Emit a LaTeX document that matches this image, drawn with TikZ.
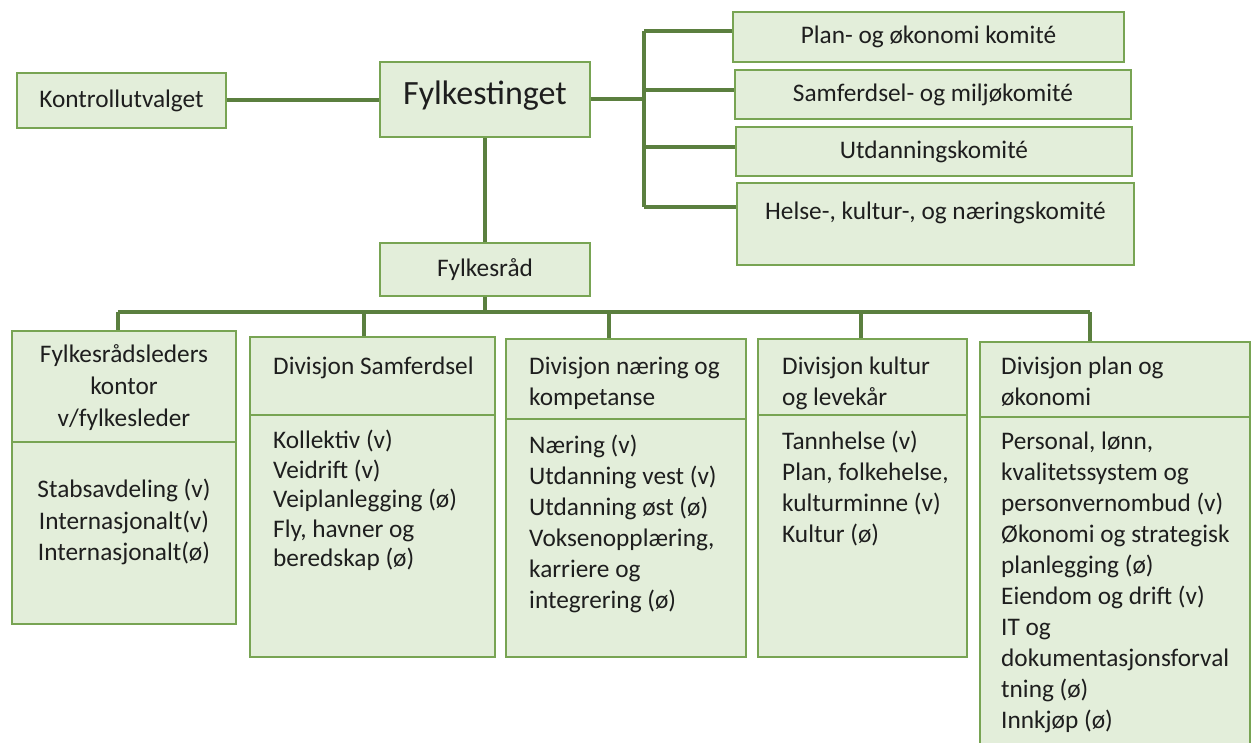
\documentclass[tikz,border=0pt]{standalone}
\usepackage{fontspec}
\setmainfont{Carlito}
\definecolor{boxfill}{HTML}{E3EEDA}
\definecolor{boxline}{HTML}{78A453}
\definecolor{connc}{HTML}{5B7F3F}
\definecolor{txtc}{HTML}{1E1E1E}
\begin{document}
\begin{tikzpicture}[x={(1pt,0)},y={(0,-1pt)},
  box/.style={draw=boxline, fill=boxfill, line width=2.6pt, inner sep=0pt, rectangle},
  conn/.style={draw=connc, line width=4pt},
  ctxt/.style={inner sep=0pt, align=center, text=txtc, font=\fontsize{25.3}{31}\selectfont},
  ltxt/.style={inner sep=0pt, align=left, anchor=north west, text=txtc, font=\fontsize{25.3}{31}\selectfont}]
\useasboundingbox[fill=white] (0,0) rectangle (1255,743);

% top level
\node[box, minimum width=209pt, minimum height=55pt] (kontroll) at (121.5,100.5) {};
\node[ctxt] (kontrollt) at (kontroll) {Kontrollutvalget};
\node[box, minimum width=210pt, minimum height=75pt] (fylkesting) at (485,99.5) {};
\node[ctxt, font=\fontsize{34}{40}\selectfont] (fylkestingt) at (485,96) {Fylkestinget};
\node[box, minimum width=210pt, minimum height=53pt] (fylkesrad) at (485,269.5) {};
\node[ctxt] (fylkesradt) at (fylkesrad) {Fylkesråd};

% committees
\node[box, minimum width=391pt, minimum height=50pt] (k1) at (928.5,37) {};
\node[ctxt] (k1t) at (k1) {Plan- og økonomi komité};
\node[box, minimum width=396pt, minimum height=49pt] (k2) at (933,94.5) {};
\node[ctxt] (k2t) at (k2) {Samferdsel- og miljøkomité};
\node[box, minimum width=396pt, minimum height=49pt] (k3) at (934,151.5) {};
\node[ctxt] (k3t) at (k3) {Utdanningskomité};
\node[box, minimum width=397pt, minimum height=82pt] (k4) at (935.5,224) {};
\node[ctxt] (k4t) at (935.5,213) {Helse-, kultur-, og næringskomité};

% divisions
\node[box, minimum width=224pt, minimum height=182pt] (d1b) at (124,533) {};
\node[box, minimum width=224pt, minimum height=111pt] (d1h) at (124,386.5) {};
\node[ctxt, font=\fontsize{25.3}{32}\selectfont] (d1ht) at (124,388) {Fylkesrådsleders\\kontor\\v/fylkesleder};
\node[ctxt, font=\fontsize{25.3}{31.5}\selectfont] (d1bt) at (124,522) {Stabsavdeling (v)\\Internasjonalt(v)\\Internasjonalt(ø)};

\node[box, minimum width=245pt, minimum height=242pt] (d2b) at (372.5,536) {};
\node[box, minimum width=245pt, minimum height=78pt] (d2h) at (372.5,376) {};
\node[ltxt] (d2ht) at (273,353) {\strut Divisjon Samferdsel};
\node[ltxt, font=\fontsize{25.3}{29.5}\selectfont] (d2bt) at (273,428) {\strut Kollektiv (v)\\Veidrift (v)\\Veiplanlegging (ø)\\Fly, havner og\\beredskap (ø)};

\node[box, minimum width=240pt, minimum height=238pt] (d3b) at (626,538) {};
\node[box, minimum width=240pt, minimum height=80pt] (d3h) at (626,379) {};
\node[ltxt] (d3ht) at (529,353) {\strut Divisjon næring og\\kompetanse};
\node[ltxt] (d3bt) at (529,432) {\strut Næring (v)\\Utdanning vest (v)\\Utdanning øst (ø)\\Voksenopplæring,\\karriere og\\integrering (ø)};

\node[box, minimum width=209pt, minimum height=242pt] (d4b) at (862.5,536) {};
\node[box, minimum width=209pt, minimum height=76pt] (d4h) at (862.5,377) {};
\node[ltxt] (d4ht) at (782,353) {\strut Divisjon kultur\\og levekår};
\node[ltxt] (d4bt) at (782,428) {\strut Tannhelse (v)\\Plan, folkehelse,\\kulturminne (v)\\Kultur (ø)};

\node[box, minimum width=270pt, minimum height=363pt] (d5b) at (1115,598.5) {};
\node[box, minimum width=270pt, minimum height=75pt] (d5h) at (1115,379.5) {};
\node[ltxt] (d5ht) at (1001,353) {\strut Divisjon plan og\\økonomi};
\node[ltxt] (d5bt) at (1001,428) {\strut Personal, lønn,\\kvalitetssystem og\\personvernombud (v)\\Økonomi og strategisk\\planlegging (ø)\\Eiendom og drift (v)\\IT og\\dokumentasjonsforval\\tning (ø)\\Innkjøp (ø)};

% connectors
\coordinate (b1) at (644,31);
\coordinate (b2) at (644,90);
\coordinate (b3) at (644,147);
\coordinate (b4) at (644,207);
\draw[conn] (kontroll.east) -- (kontroll.east -| fylkesting.west);
\draw[conn] (fylkesting.east) -- (fylkesting.east -| b1);
\draw[conn] (b1) -- (b4);
\draw[conn] (b1) -- (b1 -| k1.west);
\draw[conn] (b2) -- (b2 -| k2.west);
\draw[conn] (b3) -- (b3 -| k3.west);
\draw[conn] (b4) -- (b4 -| k4.west);
\draw[conn] (fylkesting.south) -- (fylkesrad.north);

\coordinate (u0) at (485,312);
\coordinate (u1) at (118,312);
\coordinate (u2) at (364,312);
\coordinate (u3) at (609,312);
\coordinate (u4) at (861,312);
\coordinate (u5) at (1090,312);
\draw[conn] (fylkesrad.south) -- (u0);
\draw[conn] (u1) -- (u5);
\draw[conn] (u1) -- (u1 |- d1h.north);
\draw[conn] (u2) -- (u2 |- d2h.north);
\draw[conn] (u3) -- (u3 |- d3h.north);
\draw[conn] (u4) -- (u4 |- d4h.north);
\draw[conn] (u5) -- (u5 |- d5h.north);
\end{tikzpicture}
\end{document}
